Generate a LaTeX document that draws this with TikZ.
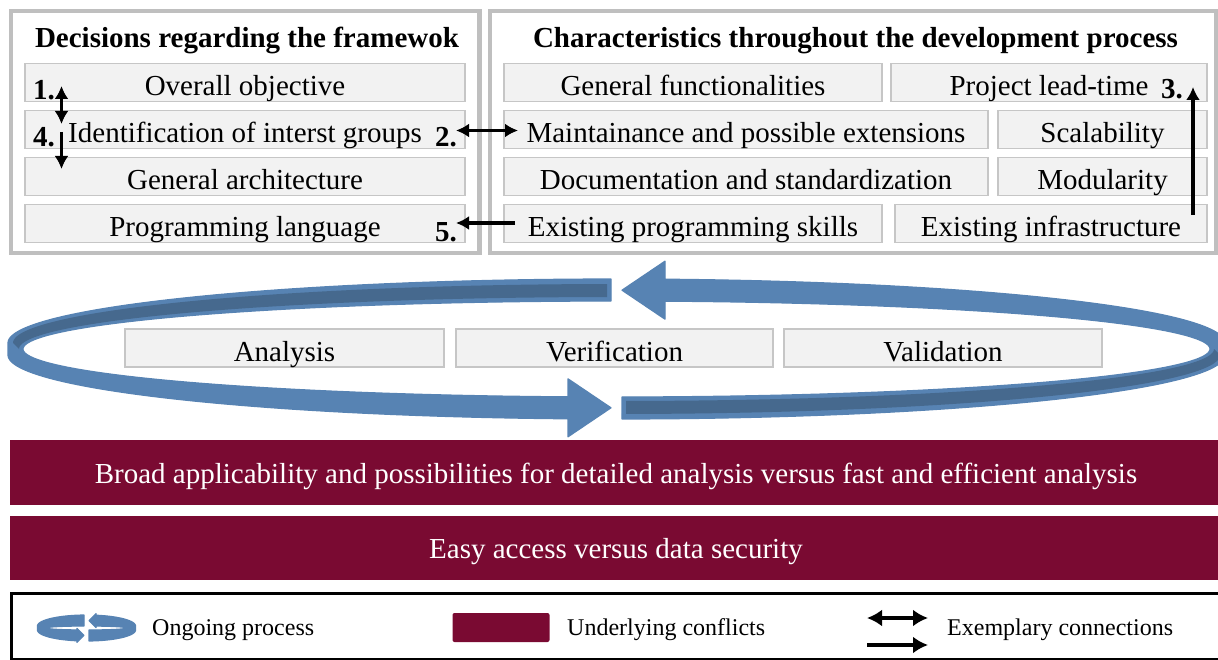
\documentclass[tikz,border=0pt]{standalone}
\usepackage{fontspec}
\setmainfont{Liberation Serif}
\usetikzlibrary{arrows.meta}

\definecolor{panelgray}{RGB}{191,191,191}
\definecolor{boxfill}{RGB}{242,242,242}
\definecolor{boxline}{RGB}{198,198,198}
\definecolor{loopface}{RGB}{87,131,179}
\definecolor{loopdark}{RGB}{70,105,142}
\definecolor{conflictred}{RGB}{122,10,50}

% Vertical half-thickness of the ring's rim (outer edge is stretched by this)
\def\loopdepth{6}

% One half of the cycle ring: a band from the top (flat end) round the left side
% to an arrow head at the bottom.
% #1 cx, #2 cy, #3 outer x radius, #4 outer y radius, #5 inner x radius,
% #6 inner y radius, #7 gap to the centre, #8 head length, #9 head half height
\newcommand{\halfloop}[9]{%
  \pgfmathsetmacro\hlTo{180+acos(#7/#3)}%
  \pgfmathsetmacro\hlTi{180+acos(#7/#5)}%
  \pgfmathsetmacro\hlBo{180-acos((#7+#8)/#3)}%
  \pgfmathsetmacro\hlBi{180-acos((#7+#8)/#5)}%
  \pgfmathsetmacro\hlX{#1-#7-#8}%
  \pgfmathsetmacro\hlYo{#2+\loopdepth+#4*sin(\hlBo)}%
  \pgfmathsetmacro\hlYi{#2+#6*sin(\hlBi)}%
  \pgfmathsetmacro\hlYc{(\hlYo+\hlYi)/2}%
  \fill[loopface, draw=loopface, line width=1.2pt, line join=round]
    plot[domain=\hlTo:180, samples=70] ({#1+#3*cos(\x)},{#2-\loopdepth+#4*sin(\x)})
    -- plot[domain=180:\hlBo, samples=70] ({#1+#3*cos(\x)},{#2+\loopdepth+#4*sin(\x)})
    -- (\hlX,\hlYo) -- (\hlX,\hlYc+#9) -- (#1-#7,\hlYc) -- (\hlX,\hlYc-#9)
    -- (\hlX,\hlYi)
    -- plot[domain=\hlBi:\hlTi, samples=90] ({#1+#5*cos(\x)},{#2+#6*sin(\x)})
    -- cycle;}

% Darker inner wall seen on the upper band of a half ring
% #1 cx, #2 cy, #3/#4 outer radii (outer centre raised by \loopdepth),
% #5/#6 inner radii, #7 gap to the centre
\newcommand{\loopwall}[7]{%
  \pgfmathsetmacro\hlTa{180+acos(#7/#3)}%
  \pgfmathsetmacro\hlTb{180+acos(#7/#5)}%
  \fill[loopdark]
    plot[domain=\hlTa:180, samples=70] ({#1+#3*cos(\x)},{#2-\loopdepth+#4*sin(\x)})
    -- plot[domain=180:\hlTb, samples=70] ({#1+#5*cos(\x)},{#2+#6*sin(\x)})
    -- cycle;}

\tikzset{
  panel/.style={draw=panelgray, line width=4.5pt, inner sep=0pt},
  item/.style={draw=boxline, fill=boxfill, line width=1.8pt, inner sep=0pt,
    minimum height=38pt, text height=32pt, text depth=6pt},
  heading/.style={font=\fontsize{29}{32}\selectfont\bfseries, anchor=base, inner sep=0pt},
  num/.style={font=\fontsize{29}{32}\selectfont\bfseries, anchor=base west, inner sep=0pt},
  conflict/.style={fill=conflictred, text=white, inner sep=0pt, minimum width=1212pt},
  keytext/.style={font=\fontsize{24}{26}\selectfont, anchor=base west, inner sep=0pt},
  link/.style={line width=3.6pt, -{Latex[length=13pt,width=14pt]}},
  linkboth/.style={line width=3.6pt, {Latex[length=13pt,width=14pt]}-{Latex[length=13pt,width=14pt]}},
  keylink/.style={line width=3.6pt, -{Latex[length=15pt,width=17pt]}},
  keylinkboth/.style={line width=3.6pt, {Latex[length=15pt,width=17pt]}-{Latex[length=15pt,width=17pt]}}
}

\begin{document}
\begin{tikzpicture}[x=1pt, y=-1pt, font=\fontsize{29}{32}\selectfont]
\useasboundingbox (0,0) rectangle (1218,660);
\clip (0,0) rectangle (1218,660);

% ---------- upper panels ----------
\node[panel, minimum width=468.5pt, minimum height=242pt] (decisions) at (245.25,132) {};
\node[panel, minimum width=726pt, minimum height=242pt] (characteristics) at (853,132) {};

\node[heading] (decTitle) at (247,48) {Decisions regarding the framewok};
\node[heading] (charTitle) at (855.5,48) {Characteristics throughout the development process};

% framework decisions
\node[item, minimum width=440pt] (objective)    at (245,82.5)  {Overall objective};
\node[item, minimum width=440pt] (groups)       at (245,129.5) {Identification of interst groups};
\node[item, minimum width=440pt] (architecture) at (245,176.5) {General architecture};
\node[item, minimum width=440pt] (language)     at (245,223.5) {Programming language};

% development characteristics
\node[item, minimum width=378pt] (functionalities) at (693,82.5)    {General functionalities};
\node[item, minimum width=316pt] (leadtime)        at (1049,82.5)   {Project lead-time};
\node[item, minimum width=484pt] (maintenance)     at (746,129.5)   {Maintainance and possible extensions};
\node[item, minimum width=209pt] (scalability)     at (1102.5,129.5){Scalability};
\node[item, minimum width=484pt] (documentation)   at (746,176.5)   {Documentation and standardization};
\node[item, minimum width=209pt] (modularity)      at (1102.5,176.5){Modularity};
\node[item, minimum width=378pt] (skills)          at (693,223.5)   {Existing programming skills};
\node[item, minimum width=312pt] (infrastructure)  at (1051,223.5)  {Existing infrastructure};

% numbered example connections
\node[num] (n1) at (33,100)   {1.};
\node[num] (n4) at (33,147)   {4.};
\node[num] (n2) at (435,147)  {2.};
\node[num] (n5) at (435,242)  {5.};
\node[num] (n3) at (1161,99)  {3.};

\coordinate (c1top) at (61.5,86);   \coordinate (c1bot) at (61.5,124);
\coordinate (c4top) at (61.5,132);  \coordinate (c4bot) at (61.5,169);
\coordinate (c2left) at (456,130.5); \coordinate (c2right) at (518,130.5);
\coordinate (c5from) at (515,223);  \coordinate (c5to) at (456,223);
\coordinate (c3from) at (1193,215); \coordinate (c3to) at (1193,87);

\draw[linkboth] (c1top) -- (c1bot);
\draw[link] (c4top) -- (c4bot);
\draw[linkboth] (c2left) -- (c2right);
\draw[link] (c5from) -- (c5to);
\draw[link] (c3from) -- (c3to);

% ---------- ongoing cycle ----------
\halfloop{616.5}{349}{608.5}{64}{593.5}{48}{5.5}{43}{29}
\loopwall{616.5}{349}{603.5}{59}{597.5}{52}{9.5}
\begin{scope}[rotate around={180:(616.5,349)}]
  \halfloop{616.5}{349}{608.5}{64}{593.5}{48}{5.5}{43}{29}
  \loopwall{616.5}{349}{603.5}{59}{597.5}{52}{9.5}
\end{scope}

\node[item, minimum width=319pt] (analysis)     at (284.5,348) {Analysis};
\node[item, minimum width=317pt] (verification) at (614.5,348) {Verification};
\node[item, minimum width=318pt] (validation)   at (943,348)   {Validation};

% ---------- underlying conflicts ----------
\node[conflict, minimum height=65pt, text height=43pt, text depth=22pt] (tradeoff) at (616,472.5)
  {Broad applicability and possibilities for detailed analysis versus fast and efficient analysis};
\node[conflict, minimum height=64pt, text height=42pt, text depth=22pt] (access) at (616,548)
  {Easy access versus data security};

% ---------- legend ----------
\node[draw=black, line width=3pt, inner sep=0pt, minimum width=1211pt, minimum height=66pt] (legend) at (616.5,626) {};

\begin{scope}
  \def\loopdepth{2}
  \halfloop{86.5}{628}{49}{11}{40}{2}{2.5}{7}{7}
  \begin{scope}[rotate around={180:(86.5,628)}]
    \halfloop{86.5}{628}{49}{11}{40}{2}{2.5}{7}{7}
  \end{scope}
\end{scope}
\node[keytext] (keyCycle) at (152,635) {Ongoing process};

\node[fill=conflictred, rounded corners=2pt, inner sep=0pt, minimum width=97pt, minimum height=29pt] (keySwatch) at (501,627.5) {};
\node[keytext] (keyConflict) at (567,635) {Underlying conflicts};

\coordinate (k1a) at (867,618); \coordinate (k1b) at (928,618);
\coordinate (k2a) at (867,645); \coordinate (k2b) at (928,645);
\draw[keylinkboth] (k1a) -- (k1b);
\draw[keylink] (k2a) -- (k2b);
\node[keytext] (keyLinks) at (947,635) {Exemplary connections};

\end{tikzpicture}
\end{document}
